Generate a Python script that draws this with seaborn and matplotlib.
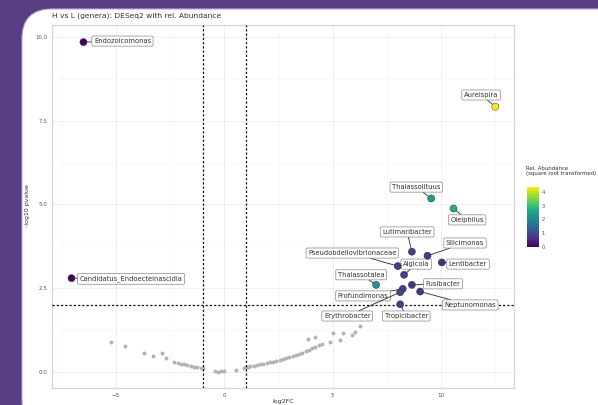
import matplotlib
matplotlib.use("Agg")
import matplotlib.pyplot as plt
import seaborn as sns
import pandas as pd
from matplotlib.patches import FancyBboxPatch
from matplotlib.transforms import IdentityTransform
from matplotlib.colors import Normalize
from matplotlib.cm import ScalarMappable

# ---- significant genera ----
genera = ["Endozoicomonas", "Candidatus_Endoecteinascidia", "Aureispira",
          "Thalassolituus", "Oleiphilus", "Lutimaribacter", "Silicimonas",
          "Lentibacter", "Pseudobdellovibrionaceae", "Algicola", "Thalassotalea",
          "Fusibacter", "Profundimonas", "Neptunomonas", "Erythrobacter",
          "Tropicibacter"]
sig_log2fc = [-6.5, -7.05, 12.5, 9.54, 10.57, 8.65, 9.37, 10.03, 8.0, 8.29,
              7.0, 8.65, 8.23, 9.03, 8.11, 8.11]
sig_neglogp = [9.85, 2.8, 7.92, 5.18, 4.88, 3.59, 3.47, 3.27, 3.16, 2.9,
               2.6, 2.6, 2.48, 2.4, 2.38, 2.02]
rel_abundance = [0.0, 0.1, 4.35, 2.4, 2.65, 0.8, 0.75, 0.6, 0.75, 0.85,
                 2.25, 0.7, 0.9, 0.65, 0.9, 0.8]

# label placement (data coordinates) for each genus
label_x = [-4.7, -4.3, 11.84, 8.85, 11.2, 8.43, 11.1, 11.24, 5.9, 8.85,
           6.31, 10.09, 6.4, 11.34, 5.67, 8.39]
label_y = [9.88, 2.78, 8.27, 5.52, 4.54, 4.18, 3.85, 3.22, 3.55, 3.22,
           2.9, 2.63, 2.27, 2.0, 1.67, 1.67]

# ---- non-significant genera ----
ns_log2fc = [-5.25, -4.6, -3.7, -3.27, -2.86, -2.7,
             -2.3, -2.15, -2.0, -1.85, -1.7, -1.55, -1.4, -1.25, -1.1, -0.98,
             -0.45, -0.3, -0.15, 0.0, 0.55,
             0.9, 1.0, 1.1, 1.2, 1.35, 1.5, 1.65, 1.8, 1.95, 2.1, 2.25, 2.4,
             2.55, 2.7, 2.85, 3.0, 3.15, 3.3, 3.45, 3.6, 3.75, 3.9, 4.05,
             4.2, 4.35, 4.5,
             3.87, 4.19, 4.88, 5.0, 5.35, 5.48, 5.9, 6.04, 6.27]
ns_neglogp = [0.9, 0.78, 0.57, 0.48, 0.57, 0.42,
              0.31, 0.28, 0.25, 0.23, 0.2, 0.18, 0.16, 0.14, 0.12, 0.11,
              0.02, 0.01, 0.02, 0.03, 0.07,
              0.12, 0.14, 0.16, 0.17, 0.19, 0.21, 0.23, 0.25, 0.27, 0.29,
              0.31, 0.33, 0.36, 0.38, 0.41, 0.44, 0.47, 0.5, 0.54, 0.58,
              0.62, 0.66, 0.7, 0.74, 0.79, 0.84,
              0.98, 1.04, 0.9, 1.16, 0.96, 1.16, 1.1, 1.2, 1.37]

fc_cut = [-1, 1]
p_cut = 2.0

sig = pd.DataFrame({"log2FC": sig_log2fc, "neglogp": sig_neglogp,
                    "abund": rel_abundance, "genus": genera})
ns = pd.DataFrame({"log2FC": ns_log2fc, "neglogp": ns_neglogp})

sns.set_style("white")
plt.rcParams["font.family"] = ["DejaVu Sans"]

W, H = 598, 405
fig = plt.figure(figsize=(W / 100, H / 100), dpi=100)
fig.patch.set_facecolor("#5a3e84")

card = FancyBboxPatch((22, -24), 700, 420,
                      boxstyle="round,pad=0,rounding_size=30",
                      transform=IdentityTransform(),
                      facecolor="white", edgecolor="#b9aed0", linewidth=0.8,
                      zorder=-10)
fig.add_artist(card)

ax = fig.add_axes([52 / W, 17 / H, 462 / W, 363 / H])
ax.set_facecolor("white")

cmap = "viridis"
norm = Normalize(0, 4.35)

sns.scatterplot(data=ns, x="log2FC", y="neglogp", color="#b3b3b3", s=8,
                linewidth=0, ax=ax, zorder=2, legend=False)

for v in fc_cut:
    ax.axvline(v, color="#111111", lw=0.9, ls=(0, (1.8, 1.6)), zorder=3)
ax.axhline(p_cut, color="#111111", lw=0.9, ls=(0, (1.8, 1.6)), zorder=3)

for i, row in sig.iterrows():
    ax.annotate(row["genus"], xy=(row["log2FC"], row["neglogp"]),
                xytext=(label_x[i], label_y[i]), textcoords="data",
                fontsize=4.9, color="#333333", ha="center", va="center",
                zorder=5,
                bbox=dict(boxstyle="round,pad=0.3,rounding_size=0.2",
                          fc="white", ec="#7a7a7a", lw=0.45),
                arrowprops=dict(arrowstyle="-", color="#2a2a3a", lw=0.6,
                                shrinkA=0, shrinkB=2))

sns.scatterplot(data=sig, x="log2FC", y="neglogp", hue="abund",
                palette=cmap, hue_norm=norm, s=26, linewidth=0.3,
                edgecolor="#222222", ax=ax, zorder=6, legend=False)

ax.set_xlim(-7.95, 13.36)
ax.set_ylim(-0.48, 10.36)
ax.set_xticks([-5, 0, 5, 10])
ax.set_xticks([-7.5, -2.5, 2.5, 7.5, 12.5], minor=True)
ax.set_yticks([0, 2.5, 5, 7.5, 10])
ax.set_yticks([1.25, 3.75, 6.25, 8.75], minor=True)
ax.set_yticklabels(["0.0", "2.5", "5.0", "7.5", "10.0"])
ax.grid(True, which="major", color="#ececec", lw=0.6)
ax.grid(True, which="minor", color="#f5f5f5", lw=0.4)
ax.set_axisbelow(True)
ax.tick_params(axis="both", which="major", labelsize=4, colors="#bdbdbd",
               labelcolor="#555555", length=2, width=0.5, pad=1.5)
ax.tick_params(axis="both", which="minor", length=0)
for s in ax.spines.values():
    s.set_color("#d6d6d6")
    s.set_linewidth(0.9)
ax.set_xlabel("")
ax.set_ylabel("")

fig.text(283 / W, 1 - 401 / H, "log2FC", fontsize=4.5, color="#333333",
         ha="center", va="center")
fig.text(28 / W, 1 - 206 / H, "-log10 pvalue", fontsize=4.5,
         color="#333333", ha="center", va="center", rotation=90)
fig.text(52 / W, 1 - 16 / H, "H vs L (genera): DESeq2 with rel. Abundance",
         fontsize=5.4, color="#333333", ha="left", va="center")

# colour bar for relative abundance
cax = fig.add_axes([527 / W, (H - 247) / H, 12 / W, 60 / H])
cb = fig.colorbar(ScalarMappable(norm=norm, cmap=cmap), cax=cax,
                  ticks=[0, 1, 2, 3, 4])
cb.outline.set_visible(False)
cax.tick_params(labelsize=3.8, length=2, width=0.4, colors="white",
                labelcolor="#555555", pad=2, direction="in")
fig.text(526 / W, 1 - 166 / H, "Rel. Abundance\n(square root transformed)",
         fontsize=3.9, color="#333333", ha="left", va="top",
         linespacing=1.1)

fig.savefig("out.png", dpi=100, facecolor=fig.get_facecolor())
